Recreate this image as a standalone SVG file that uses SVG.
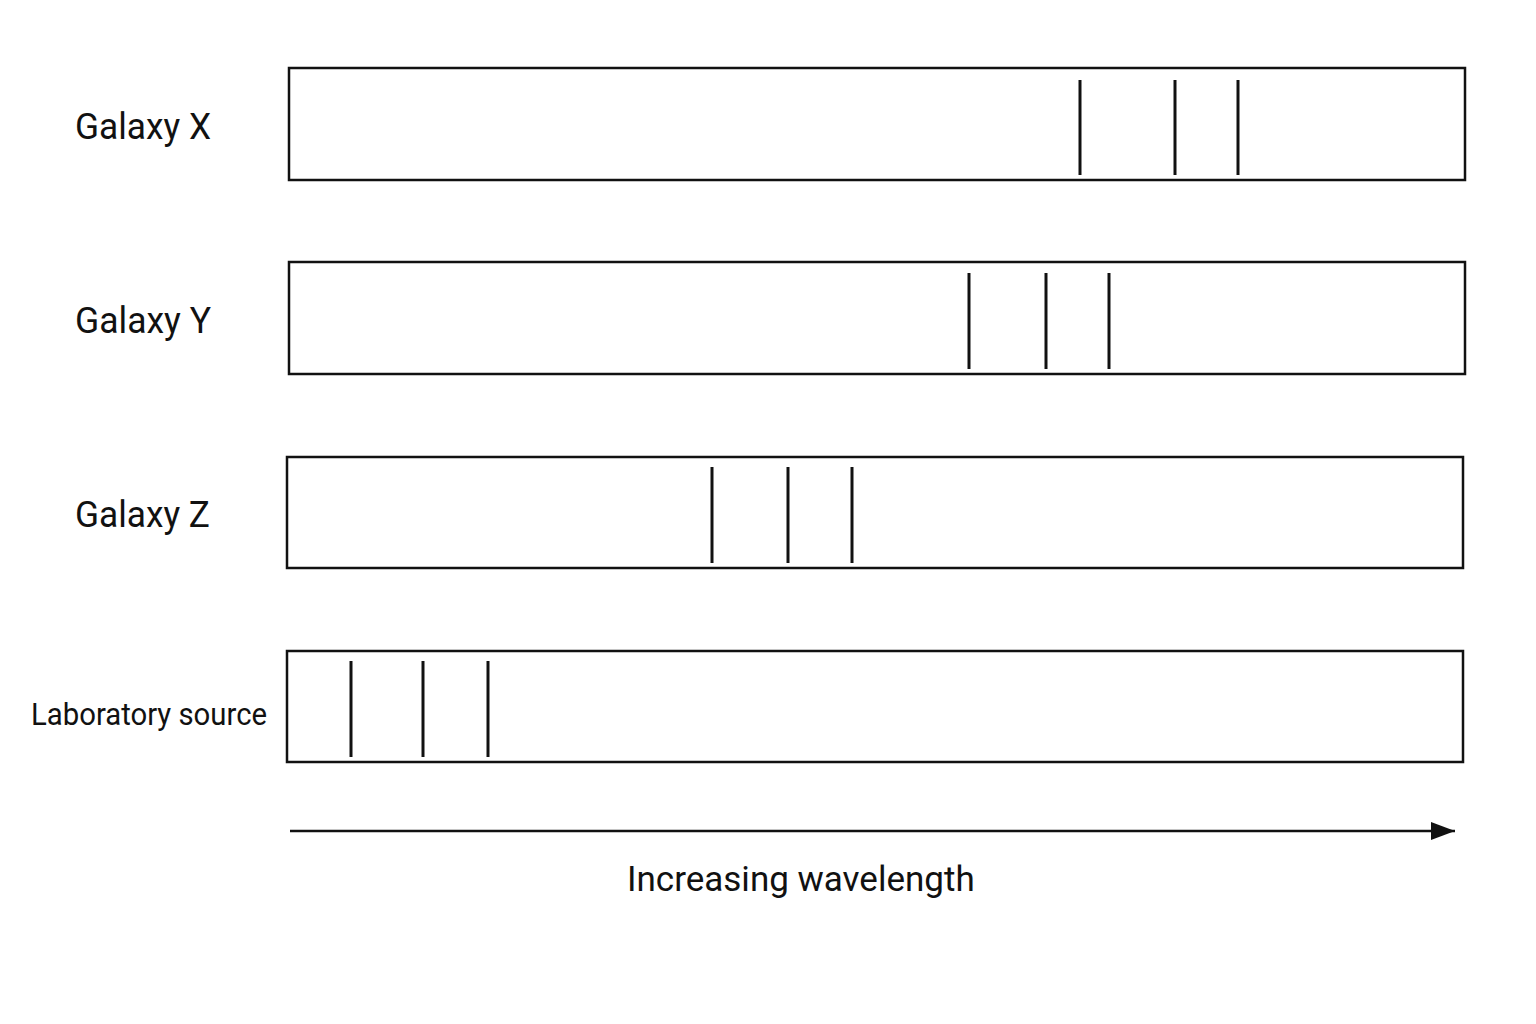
<svg xmlns="http://www.w3.org/2000/svg" width="1536" height="1024" viewBox="0 0 1536 1024">
<defs>
<style>
.box{fill:#fff;stroke:#111;stroke-width:2.5}
.ln{stroke:#111;stroke-width:3}
.lbl{font-family:Roboto,"Liberation Sans",sans-serif;fill:#111}
</style>
<marker id="ah" viewBox="0 0 24 18" refX="24" refY="9" markerWidth="24" markerHeight="18" markerUnits="userSpaceOnUse" orient="auto">
<path d="M0,0 L24,9 L0,18 Z" fill="#111"/>
</marker>
</defs>
<rect width="1536" height="1024" fill="#fff"/>
<g id="galaxy-x">
<rect class="box" x="289" y="68" width="1176" height="112"/>
<line class="ln" x1="1080" y1="80" x2="1080" y2="175"/>
<line class="ln" x1="1175" y1="80" x2="1175" y2="175"/>
<line class="ln" x1="1238" y1="80" x2="1238" y2="175"/>
<text class="lbl" x="75" y="139" font-size="36" textLength="136" lengthAdjust="spacingAndGlyphs">Galaxy X</text>
</g>
<g id="galaxy-y">
<rect class="box" x="289" y="262" width="1176" height="112"/>
<line class="ln" x1="969" y1="273" x2="969" y2="369"/>
<line class="ln" x1="1046" y1="273" x2="1046" y2="369"/>
<line class="ln" x1="1109" y1="273" x2="1109" y2="369"/>
<text class="lbl" x="75" y="333" font-size="36" textLength="136" lengthAdjust="spacingAndGlyphs">Galaxy Y</text>
</g>
<g id="galaxy-z">
<rect class="box" x="287" y="457" width="1176" height="111"/>
<line class="ln" x1="712" y1="467" x2="712" y2="563"/>
<line class="ln" x1="788" y1="467" x2="788" y2="563"/>
<line class="ln" x1="852" y1="467" x2="852" y2="563"/>
<text class="lbl" x="75" y="527" font-size="36" textLength="135" lengthAdjust="spacingAndGlyphs">Galaxy Z</text>
</g>
<g id="laboratory">
<rect class="box" x="287" y="651" width="1176" height="111"/>
<line class="ln" x1="351" y1="661" x2="351" y2="757"/>
<line class="ln" x1="423" y1="661" x2="423" y2="757"/>
<line class="ln" x1="488" y1="661" x2="488" y2="757"/>
<text class="lbl" x="31" y="725" font-size="32" textLength="236" lengthAdjust="spacingAndGlyphs">Laboratory source</text>
</g>
<g id="connectors">
<line x1="290" y1="831" x2="1455" y2="831" stroke="#111" stroke-width="2.5" marker-end="url(#ah)"/>
</g>
<g id="axis-label">
<text class="lbl" x="627" y="891" font-size="35">Increasing wavelength</text>
</g>
</svg>
